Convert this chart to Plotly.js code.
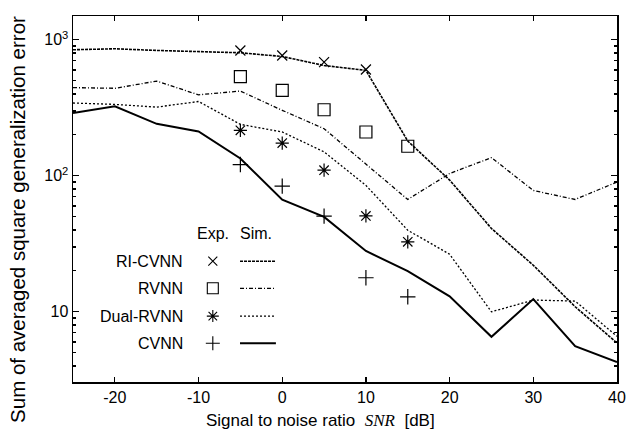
<!DOCTYPE html>
<html><head><meta charset="utf-8">
<script src="https://cdn.plot.ly/plotly-3.0.1.min.js"></script>
<style>html,body{margin:0;padding:0;background:#fff}#chart{width:626px;height:438px}</style>
</head><body><div id="chart"></div>
<script>
// ----- data -----
const snrSim = [-25, -20, -15, -10, -5, 0, 5, 10, 15, 20, 25, 30, 35, 40];
const riCvnnSim = [845, 859, 835, 815, 803, 754, 647, 596, 180, 93, 41, 22, 10.9, 5.9];
const rvnnSim   = [445, 440, 497, 394, 420, 303, 222, 122, 67, 104, 136, 78, 67, 90];
const dualSim   = [343, 335, 320, 352, 239, 210, 150, 85, 39.8, 26.5, 10.0, 12.2, 12.0, 6.6];
const cvnnSim   = [289, 324, 241, 212, 134, 66.8, 49.9, 28, 19.9, 13, 6.55, 12.4, 5.6, 4.27];

const snrExp = [-5, 0, 5, 10, 15];
const riCvnnExp = [834, 767, 685, 605];
const rvnnExp   = [537, 425, 306, 210, 165];
const dualExp   = [216, 174, 110, 50.7, 32.7];
const cvnnExp   = [121, 84, 50.5, 17.8, 12.9];

const seriesNames = ['RI-CVNN', 'RVNN', 'Dual-RVNN', 'CVNN'];
const xTicks = [-20, -10, 0, 10, 20, 30, 40];
const xTickText = ['-20', '-10', '0', '10', '20', '30', '40'];
const yTicks = [10, 100, 1000];
const yTickText = ['10', '10<sup>2</sup>', '10<sup>3</sup>'];

// ----- styles -----
const simStyles = [
  {dash: '3px,1px', width: 1.6},
  {dash: '4px,2px,1px,2px', width: 1.3},
  {dash: '2px,2px', width: 1.3},
  {dash: 'solid', width: 2}
];
const expSymbols = ['x-thin-open', 'square-open', 'asterisk-open', 'cross-thin-open'];
const expSizes = [10, 12, 11, 11];
const simData = [riCvnnSim, rvnnSim, dualSim, cvnnSim];
const expData = [riCvnnExp, rvnnExp, dualExp, cvnnExp];

const traces = [];
simData.forEach((ys, i) => {
  traces.push({x: snrSim, y: ys, type: 'scatter', mode: 'lines', name: seriesNames[i] + ' Sim.',
    line: {color: '#000', width: simStyles[i].width, dash: simStyles[i].dash}, showlegend: false, hoverinfo: 'skip'});
});
expData.forEach((ys, i) => {
  traces.push({x: snrExp.slice(0, ys.length), y: ys, type: 'scatter', mode: 'markers', name: seriesNames[i] + ' Exp.',
    marker: {symbol: expSymbols[i], size: expSizes[i], color: '#000', line: {color: '#000', width: 1.2}}, showlegend: false, hoverinfo: 'skip'});
});

// custom legend drawn on hidden overlay axes (0..1 of plot area)
const legRowsY = [0.330, 0.256, 0.180, 0.106];
const legMarkX = 0.257, legLineX = [0.307, 0.373], legLabelX = 0.205;
seriesNames.forEach((nm, i) => {
  traces.push({x: [legMarkX], y: [legRowsY[i]], xaxis: 'x2', yaxis: 'y2', type: 'scatter', mode: 'markers',
    marker: {symbol: expSymbols[i], size: expSizes[i] - 1, color: '#000', line: {color: '#000', width: 1.1}}, showlegend: false, hoverinfo: 'skip'});
  traces.push({x: legLineX, y: [legRowsY[i], legRowsY[i]], xaxis: 'x2', yaxis: 'y2', type: 'scatter', mode: 'lines',
    line: {color: '#000', width: simStyles[i].width, dash: simStyles[i].dash}, showlegend: false, hoverinfo: 'skip'});
});

const font = 'Liberation Sans, Arial, sans-serif';
const annotations = seriesNames.map((nm, i) => ({
  xref: 'x2 domain', yref: 'y2', x: legLabelX, y: legRowsY[i], text: nm, showarrow: false,
  xanchor: 'right', yanchor: 'middle', font: {family: font, size: 16, color: '#000'}
}));
annotations.push({xref: 'x2 domain', yref: 'y2', x: legMarkX, y: 0.407, text: 'Exp.', showarrow: false,
  xanchor: 'center', yanchor: 'middle', font: {family: font, size: 16, color: '#000'}});
annotations.push({xref: 'x2 domain', yref: 'y2', x: 0.337, y: 0.407, text: 'Sim.', showarrow: false,
  xanchor: 'center', yanchor: 'middle', font: {family: font, size: 16, color: '#000'}});
annotations.push({xref: 'paper', yref: 'paper', x: 0.455, y: -0.104, text: 'Signal to noise ratio  <i><span style="font-family:Liberation Serif,Times New Roman,serif">SNR</span></i>  [dB]',
  showarrow: false, xanchor: 'center', yanchor: 'middle', font: {family: font, size: 17, color: '#000'}});
annotations.push({xref: 'paper', yref: 'paper', x: -0.101, y: 0.443, text: 'Sum of averaged square generalization error',
  textangle: -90, showarrow: false, xanchor: 'center', yanchor: 'middle', font: {family: font, size: 20.5, color: '#000'}});

const minorVals = [];
[1, 10, 100, 1000].forEach(d => { for (let k = 2; k <= 9; k++) minorVals.push(d * k); });

const layout = {
  width: 626, height: 438,
  margin: {l: 73, r: 9, t: 16, b: 56},
  paper_bgcolor: '#fff', plot_bgcolor: '#fff',
  font: {family: font, size: 16, color: '#000'},
  xaxis: {range: [-25, 40], tickvals: xTicks, ticktext: xTickText, ticks: 'inside', ticklen: 5, tickwidth: 1.2, tickcolor: '#000',
    showline: true, linecolor: '#000', linewidth: 1.5, mirror: 'ticks', showgrid: false, zeroline: false,
    tickfont: {family: font, size: 16}},
  yaxis: {type: 'log', range: [0.484, 3.175], tickvals: yTicks, ticktext: yTickText, ticks: 'inside', ticklen: 6,
    tickwidth: 1.2, tickcolor: '#000', showline: true, linecolor: '#000', linewidth: 1.5, mirror: 'ticks',
    showgrid: false, zeroline: false, tickfont: {family: font, size: 16},
    minor: {tickvals: minorVals, ticks: 'inside', ticklen: 3, tickcolor: '#000', showgrid: false}},
  xaxis2: {overlaying: 'x', range: [0, 1], visible: false, fixedrange: true},
  yaxis2: {overlaying: 'y', range: [0, 1], visible: false, fixedrange: true},
  annotations: annotations,
  showlegend: false
};

Plotly.newPlot('chart', traces, layout, {displayModeBar: false, staticPlot: true});
</script>
</body></html>
